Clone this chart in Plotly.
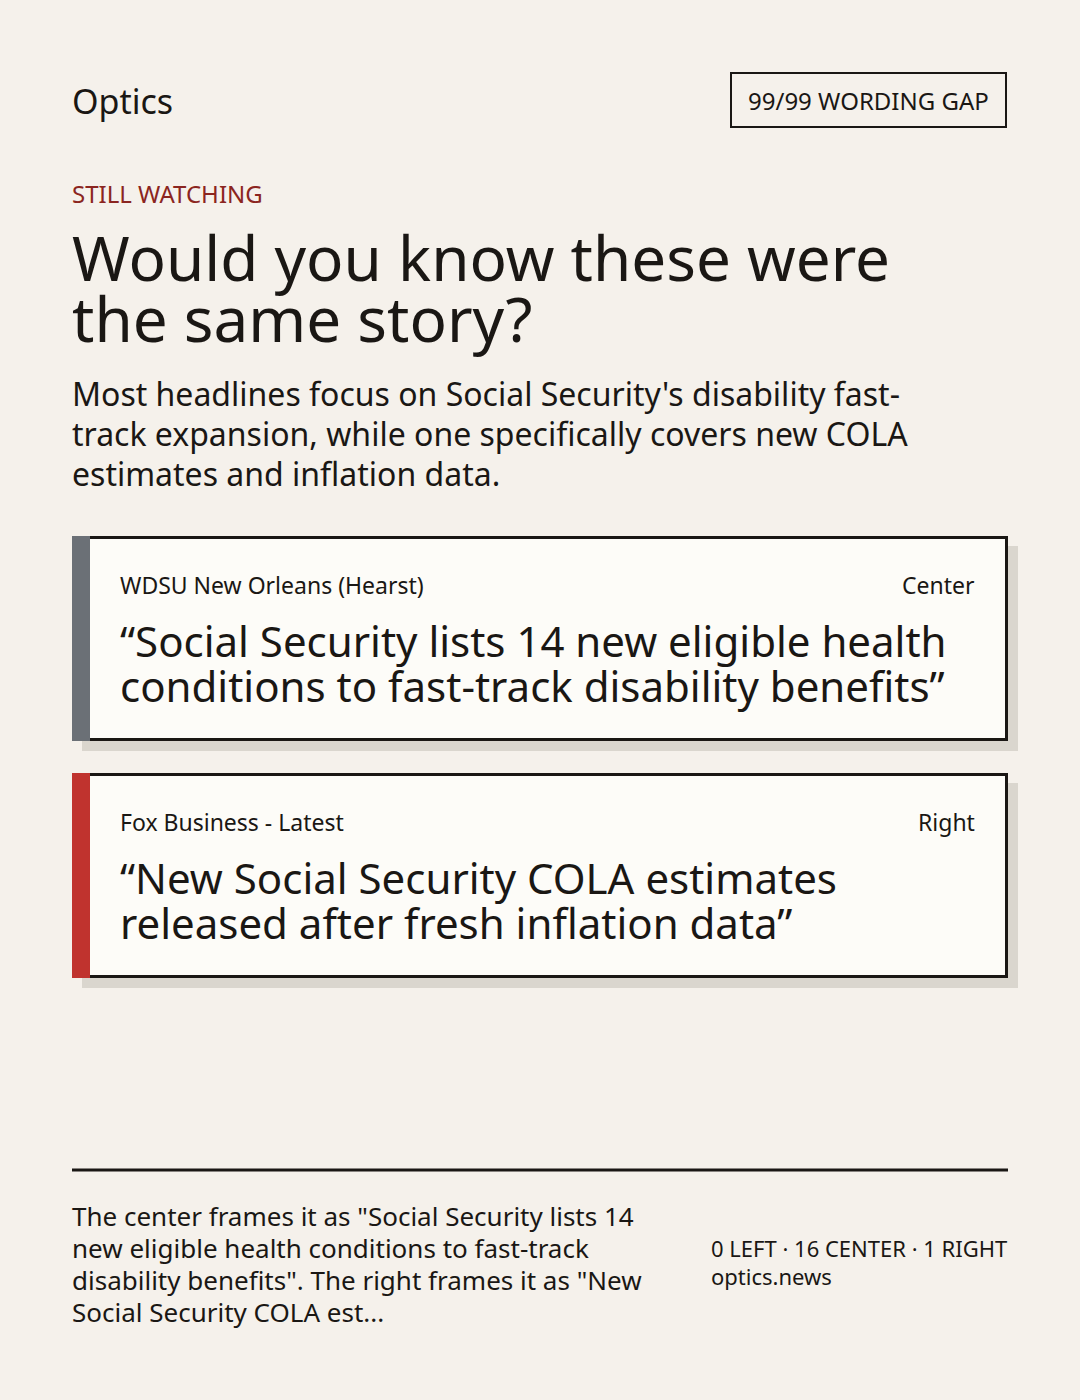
import plotly.graph_objects as go

# ---- content ----
brand = "Optics"
badge = "99/99 WORDING GAP"
kicker = "STILL WATCHING"
title_lines = ["Would you know these were", "the same story?"]
subtitle_lines = [
    "Most headlines focus on Social Security's disability fast-",
    "track expansion, while one specifically covers new COLA",
    "estimates and inflation data.",
]
sources = ["WDSU New Orleans (Hearst)", "Fox Business - Latest"]
leanings = ["Center", "Right"]
headlines = [
    ["\u201cSocial Security lists 14 new eligible health",
     "conditions to fast-track disability benefits\u201d"],
    ["\u201cNew Social Security COLA estimates",
     "released after fresh inflation data\u201d"],
]
footer_lines = [
    "The center frames it as \"Social Security lists 14",
    "new eligible health conditions to fast-track",
    "disability benefits\". The right frames it as \"New",
    "Social Security COLA est...",
]
counts_line = "0 LEFT \u00b7 16 CENTER \u00b7 1 RIGHT"
site = "optics.news"

# ---- style ----
FONT = "Noto Sans"
BG = "#f5f1eb"
INK = "#1a1714"
CARD = "#fdfcf8"
SHADOW = "#dad6ce"
KICK = "#8b2520"
STRIPES = ["#6b7076", "#c0332e"]
W, H = 1080, 1400

fig = go.Figure()
shapes = []
annos = []


def text(s, x, baseline, size, color=INK, xanchor="left"):
    dx = {"left": -1.5, "right": 2, "center": 0}[xanchor]
    annos.append(dict(
        x=x + dx, y=baseline - 0.39 * size, xref="x", yref="y", text=s,
        showarrow=False, xanchor=xanchor, yanchor="middle",
        font=dict(family=FONT, size=size, color=color), borderpad=0,
    ))


# header
text(brand, 72, 114, 34)
shapes.append(dict(type="rect", x0=731, x1=1006, y0=73, y1=127,
                   line=dict(color=INK, width=2), fillcolor="rgba(0,0,0,0)"))
text(badge, 868.5, 110, 24, xanchor="center")
text(kicker, 72, 203, 24, color=KICK)

for i, ln in enumerate(title_lines):
    text(ln, 72, 281 + i * 61, 62)
for i, ln in enumerate(subtitle_lines):
    text(ln, 72, 406 + i * 40, 32)

# cards
card_tops = [536, 773]
card_h = 205
for k, top in enumerate(card_tops):
    bot = top + card_h
    shapes.append(dict(type="rect", x0=82, x1=1018, y0=top + 10, y1=bot + 10,
                       line=dict(width=0), fillcolor=SHADOW))
    shapes.append(dict(type="rect", x0=73.5, x1=1006.5, y0=top + 1.5, y1=bot - 1.5,
                       line=dict(color=INK, width=3), fillcolor=CARD))
    shapes.append(dict(type="rect", x0=72, x1=90, y0=top, y1=bot,
                       line=dict(width=0), fillcolor=STRIPES[k]))
    text(sources[k], 120, top + 58, 23)
    text(leanings[k], 974, top + 58, 23, xanchor="right")
    for j, ln in enumerate(headlines[k]):
        text(ln, 120, top + 121 + j * 45, 42)

# footer
shapes.append(dict(type="line", x0=72, x1=1008, y0=1170, y1=1170,
                   line=dict(color=INK, width=3)))
for i, ln in enumerate(footer_lines):
    text(ln, 72, 1226 + i * 32, 26)
text(counts_line, 711, 1257, 22)
text(site, 711, 1285, 22)

fig.update_layout(
    width=W, height=H, margin=dict(l=0, r=0, t=0, b=0),
    paper_bgcolor=BG, plot_bgcolor=BG,
    xaxis=dict(range=[0, W], visible=False, fixedrange=True),
    yaxis=dict(range=[H, 0], visible=False, fixedrange=True),
    shapes=shapes, annotations=annos, showlegend=False,
)
fig.write_html(
    "out.html",
    config={"displayModeBar": False},
    post_script="document.body.style.margin='0';document.body.style.background='%s';" % BG,
)
